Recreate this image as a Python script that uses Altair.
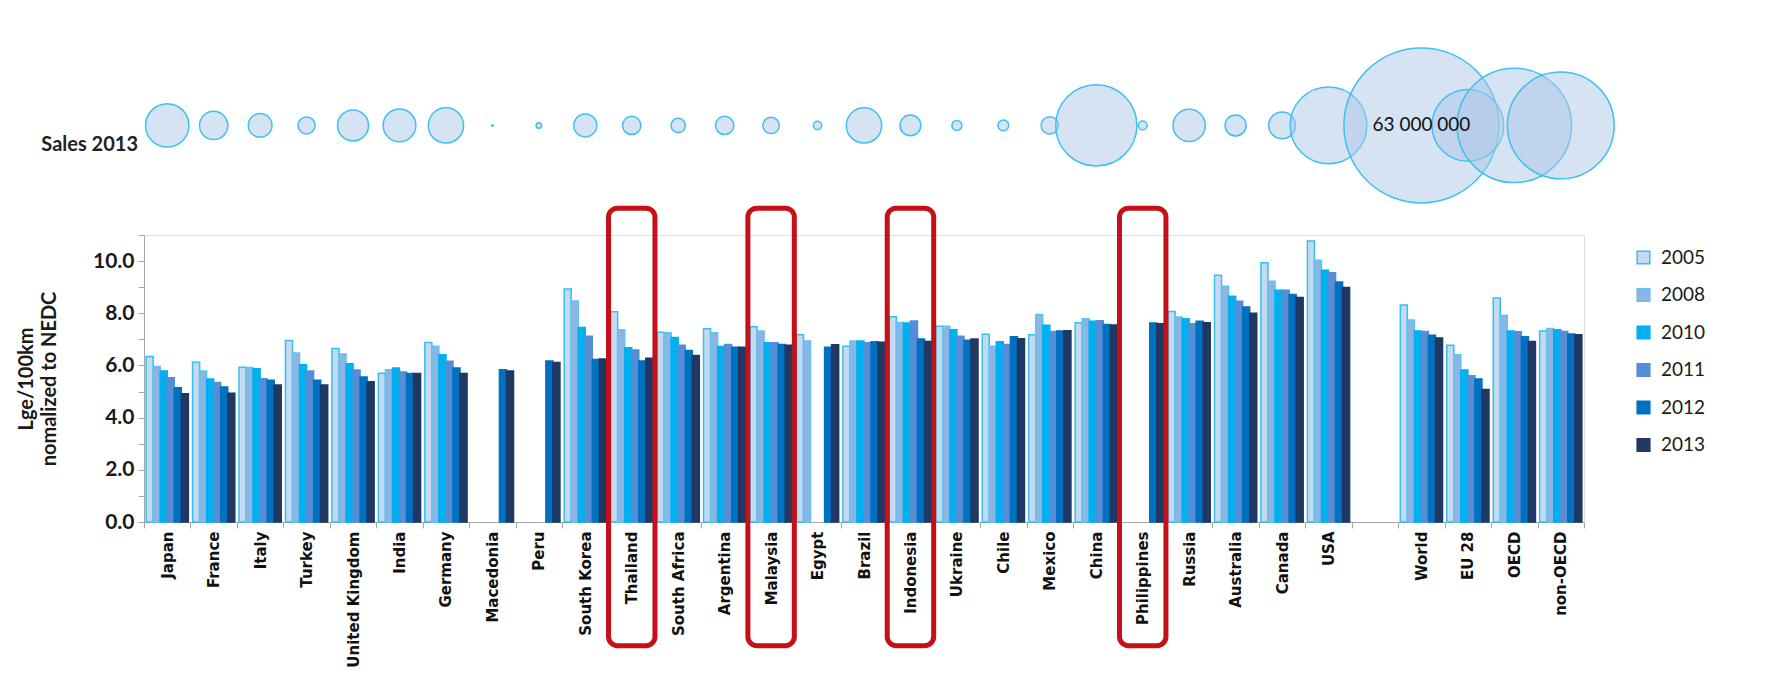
import altair as alt
import pandas as pd

cats = ["Japan", "France", "Italy", "Turkey", "United Kingdom", "India", "Germany",
        "Macedonia", "Peru", "South Korea", "Thailand", "South Africa", "Argentina",
        "Malaysia", "Egypt", "Brazil", "Indonesia", "Ukraine", "Chile", "Mexico",
        "China", "Philippines", "Russia", "Australia", "Canada", "USA", " ",
        "World", "EU 28", "OECD", "non-OECD"]
years = ["2005", "2008", "2010", "2011", "2012", "2013"]

v2005 = [6.34, 6.12, 5.93, 6.96, 6.65, 5.70, 6.88, None, None, 8.93, 8.06, 7.27, 7.41,
         7.48, 7.18, 6.74, 7.87, 7.50, 7.20, 7.18, 7.64, None, 8.07, 9.46, 9.94, 10.77,
         None, 8.32, 6.77, 8.59, 7.32]
v2008 = [5.96, 5.79, 5.92, 6.48, 6.44, 5.84, 6.74, None, None, 8.47, 7.37, 7.25, 7.25,
         7.32, 6.94, 6.94, 7.65, 7.50, 6.74, 7.95, 7.79, None, 7.86, 9.04, 9.23, 10.03,
         None, 7.74, 6.41, 7.92, 7.42]
v2010 = [5.79, 5.48, 5.87, 6.03, 6.07, 5.90, 6.41, None, None, 7.45, 6.68, 7.07, 6.73,
         6.87, None, 6.94, 7.63, 7.37, 6.91, 7.54, 7.69, None, 7.79, 8.65, 8.88, 9.65,
         None, 7.32, 5.83, 7.32, 7.37]
v2011 = [5.53, 5.35, 5.49, 5.79, 5.83, 5.75, 6.16, None, None, 7.12, 6.59, 6.77, 6.80,
         6.87, None, 6.87, 7.70, 7.12, 6.80, 7.30, 7.71, None, 7.60, 8.46, 8.88, 9.55,
         None, 7.30, 5.61, 7.29, 7.30]
v2012 = [5.15, 5.17, 5.43, 5.43, 5.56, 5.69, 5.90, 5.84, 6.17, 6.23, 6.17, 6.57, 6.70,
         6.80, 6.70, 6.91, 7.01, 6.97, 7.10, 7.32, 7.57, 7.63, 7.69, 8.24, 8.72, 9.20,
         None, 7.16, 5.48, 7.10, 7.21]
v2013 = [4.92, 4.93, 5.25, 5.25, 5.38, 5.69, 5.69, 5.79, 6.11, 6.25, 6.28, 6.38, 6.70,
         6.77, 6.79, 6.89, 6.92, 7.01, 7.02, 7.33, 7.55, 7.60, 7.64, 8.00, 8.60, 8.99,
         None, 7.05, 5.08, 6.92, 7.18]

# 2013 sales, millions of vehicles (bubble area)
sales_m = [4.92, 2.10, 1.47, 0.76, 2.52, 2.80, 3.27, 0.006, 0.08, 1.39, 0.88, 0.54, 0.88,
           0.70, 0.18, 3.27, 1.13, 0.26, 0.30, 0.79, 17.3, 0.20, 2.73, 1.16, 1.87, 15.4,
           None, 63.0, 13.5, 34.3, 29.9]

highlight = ["Thailand", "Malaysia", "Indonesia", "Philippines"]
world_label = ["63 000 000"]
row_label = ["Sales 2013"]

fills = ["#c6d9f1", "#8db4e2", "#00b0f0", "#558ed5", "#0070c0", "#1f3864"]
strokes = ["#35c0f0", "#5cc6f0", "#00b0f0", "#558ed5", "#0070c0", "#1f3864"]

rows = []
for y, vals in zip(years, [v2005, v2008, v2010, v2011, v2012, v2013]):
    for c, v in zip(cats, vals):
        if v is not None:
            rows.append({"cat": c, "year": y, "value": v})
bars_df = pd.DataFrame(rows)
bub_df = pd.DataFrame({"cat": cats, "sales": sales_m}).dropna()

xscale = alt.Scale(domain=cats, paddingInner=0, paddingOuter=0)
yscale = alt.Scale(domain=[0, 11], nice=False, zero=True)

xaxis = alt.Axis(labelAngle=270, labelFont="DejaVu Sans", labelFontWeight="bold",
                 labelFontSize=15, labelColor="#111111", tickBand="extent", tickSize=6,
                 tickColor="#a6a6a6", domainColor="#a6a6a6", labelPadding=3,
                 title=None, labelLimit=300)
yaxis = alt.Axis(values=list(range(12)),
                 labelExpr="datum.value % 2 == 0 ? format(datum.value, '.1f') : ''",
                 labelFont="Lato", labelFontWeight="bold", labelFontSize=21,
                 labelColor="#1a1a1a", tickSize=6, tickColor="#a6a6a6",
                 domainColor="#a6a6a6", grid=False, labelPadding=4,
                 title=["Lge/100km", "nomalized to NEDC"], titleFont="Lato",
                 titleFontWeight="bold", titleFontSize=20, titleColor="#1a1a1a",
                 titlePadding=33, titleLineHeight=23)

legend = alt.Legend(title=None, orient="none", legendX=1490, legendY=13,
                    symbolType="square", symbolSize=160, symbolStrokeWidth=1.5,
                    labelFont="Lato", labelFontSize=19, labelColor="#1a1a1a",
                    rowPadding=17.5, labelOffset=8)

X = alt.X("cat:N", scale=xscale, axis=xaxis)

bars = alt.Chart(bars_df).mark_bar(strokeWidth=1.5).encode(
    x=X,
    xOffset=alt.XOffset("year:N", scale=alt.Scale(domain=years, paddingInner=0, paddingOuter=0.3)),
    y=alt.Y("value:Q", scale=yscale, axis=yaxis),
    fill=alt.Fill("year:N", scale=alt.Scale(domain=years, range=fills), legend=legend),
    stroke=alt.Stroke("year:N", scale=alt.Scale(domain=years, range=strokes), legend=legend),
)

BUB_Y = 15.2
bubbles = alt.Chart(bub_df).mark_circle(fill="#abc7e7", fillOpacity=0.5, opacity=1,
                                        stroke="#3ec0f0", strokeWidth=1.5).encode(
    x=X,
    y=alt.YDatum(BUB_Y, type="quantitative", scale=yscale, axis=yaxis),
    size=alt.Size("sales:Q", scale=alt.Scale(domain=[0, 63], range=[0, 24025], zero=True),
                  legend=None),
)

wtxt = alt.Chart(pd.DataFrame({"cat": ["World"], "label": world_label})).mark_text(
    font="Lato", fontSize=19, color="#111111").encode(
    x=X,
    y=alt.YDatum(BUB_Y, type="quantitative", scale=yscale, axis=yaxis),
    text="label:N",
)

stxt = alt.Chart(pd.DataFrame({"label": row_label})).mark_text(
    font="Lato", fontSize=20, fontWeight="bold", color="#222222", align="right").encode(
    x=alt.value(-6),
    y=alt.YDatum(14.45, type="quantitative", scale=yscale, axis=yaxis),
    text="label:N",
)

boxes = alt.Chart(pd.DataFrame({"cat": highlight})).mark_rect(
    fill="white", fillOpacity=0, stroke="#c41016", strokeWidth=5, cornerRadius=9).encode(
    x=X,
    y=alt.YDatum(12.03, type="quantitative", scale=yscale, axis=yaxis),
    y2=alt.Y2Datum(-4.74),
)

chart = alt.layer(bars, bubbles, wtxt, stxt, boxes).properties(
    width=1440, height=287,
    autosize=alt.AutoSizeParams(type="none"),
    padding={"left": 144, "top": 235, "right": 184, "bottom": 171},
).configure_view(stroke=None).configure(background="white")

chart.save("out.html", embed_options={"renderer": "svg", "actions": False})
